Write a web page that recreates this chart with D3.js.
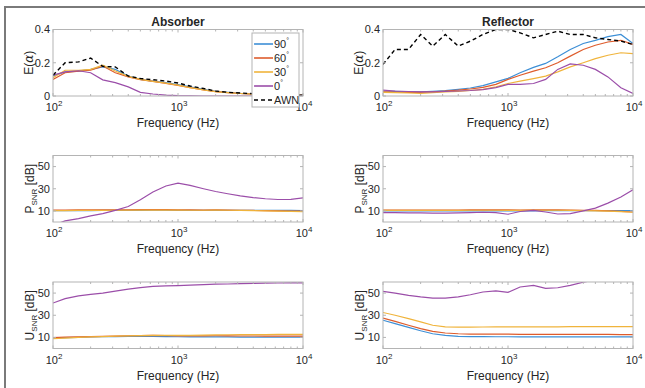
<!DOCTYPE html>
<html>
<head>
<meta charset="utf-8">
<script src="https://cdn.jsdelivr.net/npm/d3@7"></script>
<style>
  body { margin: 0; background: #fff; }
  svg text { font-family: "Liberation Sans", Arial, Helvetica, sans-serif; fill: #262626; }
</style>
</head>
<body>
<svg id="fig" width="645" height="388"></svg>
<script>
// Frequency grid (Hz), shared by all curves
var freqs = [100,125,160,200,250,315,400,500,630,800,1000,1250,1600,2000,2500,3150,4000,5000,6300,8000,10000];

var seriesNames = ["90°", "60°", "30°", "0°", "AWN"];
var seriesColors = ["#3d8fd6", "#de5c2c", "#f0b43c", "#9b4ea9", "#000"];

// E(alpha), absorber
var absE90  = [0.12,0.145,0.15,0.16,0.175,0.16,0.12,0.1,0.09,0.08,0.068,0.055,0.04,0.028,0.022,0.016,0.012,0.009,0.007,0.005,0.004];
var absE60  = [0.1,0.14,0.15,0.155,0.18,0.14,0.115,0.098,0.088,0.076,0.064,0.05,0.036,0.026,0.02,0.015,0.011,0.008,0.006,0.005,0.004];
var absE30  = [0.11,0.155,0.155,0.16,0.185,0.15,0.118,0.1,0.088,0.077,0.065,0.05,0.037,0.026,0.02,0.015,0.011,0.008,0.006,0.005,0.004];
var absE0   = [0.125,0.145,0.152,0.14,0.097,0.08,0.055,0.022,0.012,0.005,0.002,0.001,0,0,0,0,0,0,0,0,0.004];
var absEAWN = [0.125,0.2,0.205,0.228,0.178,0.175,0.12,0.105,0.098,0.09,0.078,0.06,0.045,0.03,0.022,0.018,0.014,0.01,0.008,0.006,0.005];

// E(alpha), reflector
var refE90  = [0.03,0.028,0.025,0.025,0.028,0.032,0.04,0.048,0.062,0.085,0.106,0.14,0.172,0.196,0.236,0.28,0.316,0.335,0.357,0.37,0.316];
var refE60  = [0.025,0.024,0.022,0.022,0.025,0.03,0.035,0.042,0.052,0.07,0.1,0.125,0.15,0.17,0.2,0.24,0.28,0.305,0.325,0.335,0.31];
var refE30  = [0.022,0.02,0.018,0.016,0.02,0.024,0.028,0.033,0.04,0.055,0.075,0.09,0.105,0.12,0.145,0.175,0.2,0.225,0.245,0.26,0.255];
var refE0   = [0.035,0.03,0.027,0.025,0.025,0.027,0.03,0.033,0.038,0.05,0.07,0.07,0.075,0.1,0.16,0.193,0.185,0.16,0.115,0.05,0.015];
var refEAWN = [0.19,0.28,0.28,0.37,0.3,0.37,0.3,0.33,0.37,0.4,0.4,0.38,0.35,0.37,0.39,0.37,0.37,0.35,0.34,0.33,0.31];

// P_SNR [dB]
var absP90  = [10.2,10.2,10.3,10.3,10.4,10.4,10.5,10.5,10.6,10.6,10.5,10.5,10.4,10.4,10.4,10.4,10.4,10.4,10.4,10.4,10.3];
var absP60  = [10.8,10.8,10.9,11,11,11,11,11.1,11.2,11.2,11,10.9,10.8,10.9,10.8,10.6,10.4,10.2,10,9.9,9.8];
var absP30  = [10.2,10.3,10.4,10.5,10.5,10.6,10.6,10.7,10.8,10.8,10.7,10.6,10.6,10.7,10.6,10.4,10.2,10,9.8,9.6,9.4];
var absP0   = [-3,1,3,5.5,7.5,10.5,14,20,27,32.5,35,33,30,27.5,25.5,23.5,22,21,20.3,20.5,21.8];
var refP90  = [10,10,10,10,10,10,10,10.1,10.1,10.1,10.1,10.1,10.1,10.2,10.2,10.2,10.2,10.2,10.2,10.2,10.2];
var refP60  = [10.8,10.8,10.8,10.7,10.7,10.8,10.8,10.9,11,11,10.9,10.8,10.9,11,11,10.8,10.6,10.4,10,9.5,9];
var refP30  = [10.4,10.4,10.4,10.4,10.4,10.4,10.5,10.6,10.6,10.6,10.5,10.5,10.6,10.6,10.6,10.5,10.3,10.1,9.8,9.3,8.8];
var refP0   = [8.5,8.5,8.3,8.2,8,8,8.2,8.5,8.8,8.5,7,9.5,10.5,9,7.2,7.5,10,12.5,17,22.5,29];

// U_SNR [dB]
var absU90  = [9.5,9.8,10.1,10.4,10.6,10.8,10.9,11,11,10.8,10.6,10.5,10.4,10.4,10.4,10.3,10.3,10.3,10.2,10.2,10.2];
var absU60  = [9.8,10.2,10.5,10.8,11,11.2,11.5,11.7,11.8,11.6,11.3,11.3,11.4,11.5,11.4,11.3,11.3,11.2,11.2,11.2,11.2];
var absU30  = [8.8,9.4,10,10.5,10.8,11.1,11.4,11.7,11.8,11.8,11.8,11.9,12.1,12.3,12.4,12.5,12.6,12.6,12.7,12.8,12.8];
var absU0   = [41,45,47.5,48.8,50,51.8,53.5,55,56,56.5,56.8,57.2,57.6,58,58.2,58.5,58.7,58.9,59.1,59.3,59.3];
var refU90  = [25.5,22.5,19,16,13.3,11.8,11,10.8,10.7,10.6,10.6,10.5,10.5,10.5,10.5,10.5,10.5,10.5,10.5,10.5,10.5];
var refU60  = [27.5,24.5,21,18,15.5,14,13.3,13,13,12.9,12.9,12.8,12.7,12.8,12.8,12.8,12.7,12.7,12.7,12.6,12.6];
var refU30  = [32.5,30,27,24,21,19.5,19.2,19.3,19.4,19.5,19.5,19.5,19.5,19.6,19.6,19.7,19.7,19.8,19.8,19.8,19.8];
var refU0   = [51.5,50,48,46.5,45.5,45.5,46.5,48.5,51,52,50.7,55.5,57,54.3,54.8,57,59.8,62,64,65,66];

var colTitles = ["Absorber", "Reflector"];
var eTicks = [0, 0.2, 0.4];
var snrTicks = [10, 30, 50];

var svg = d3.select("#fig");

var colX = [53, 383], plotW = 250;
var rowY = [29.5, 155.5, 282], plotH = 66.5;

var panels = [
  { col: 0, row: 0, kind: "E", series: [absE90, absE60, absE30, absE0, absEAWN] },
  { col: 1, row: 0, kind: "E", series: [refE90, refE60, refE30, refE0, refEAWN] },
  { col: 0, row: 1, kind: "P", series: [absP90, absP60, absP30, absP0] },
  { col: 1, row: 1, kind: "P", series: [refP90, refP60, refP30, refP0] },
  { col: 0, row: 2, kind: "U", series: [absU90, absU60, absU30, absU0] },
  { col: 1, row: 2, kind: "U", series: [refU90, refU60, refU30, refU0] }
];

// outer frame (only top and left edges show in the crop)
svg.append("path")
  .attr("d", "M5,388V7H645")
  .attr("fill", "none")
  .attr("stroke", "#7a7a7a")
  .attr("stroke-width", 2);

var majorX = [100, 1000, 10000];
var minorX = [];
[100, 1000].forEach(function(dec) {
  for (var k = 2; k <= 9; k++) minorX.push(dec * k);
});

panels.forEach(function(p, pi) {
  var x0 = colX[p.col], y0 = rowY[p.row];
  var g = svg.append("g").attr("transform", "translate(" + x0 + "," + y0 + ")");

  var x = d3.scaleLog().domain([100, 10000]).range([0, plotW]);
  var y = d3.scaleLinear()
    .domain(p.kind === "E" ? [0, 0.4] : [0, 60])
    .range([plotH, 0]);
  var yt = p.kind === "E" ? eTicks : snrTicks;

  g.append("rect").attr("width", plotW).attr("height", plotH).attr("fill", "#fff");

  // clip lines to axes
  svg.append("defs").append("clipPath").attr("id", "clip" + pi)
    .append("rect").attr("width", plotW).attr("height", plotH);

  var line = d3.line()
    .x(function(d, i) { return x(freqs[i]); })
    .y(function(d) { return y(d); });

  var lines = g.append("g").attr("clip-path", "url(#clip" + pi + ")");
  p.series.forEach(function(vals, si) {
    lines.append("path")
      .datum(vals)
      .attr("d", line)
      .attr("fill", "none")
      .attr("stroke", seriesColors[si])
      .attr("stroke-width", si === 4 ? 1.4 : 1.2)
      .attr("stroke-dasharray", si === 4 ? "4,3" : null);
  });

  // box and inward ticks
  var tk = g.append("g").attr("stroke", "#b4b4b4").attr("stroke-width", 1).attr("fill", "none");
  tk.append("rect").attr("width", plotW).attr("height", plotH);
  majorX.concat(minorX).forEach(function(f) {
    var len = majorX.indexOf(f) >= 0 ? 3 : 2;
    tk.append("line").attr("x1", x(f)).attr("x2", x(f)).attr("y1", plotH).attr("y2", plotH - len);
    tk.append("line").attr("x1", x(f)).attr("x2", x(f)).attr("y1", 0).attr("y2", len);
  });
  yt.forEach(function(v) {
    tk.append("line").attr("x1", 0).attr("x2", 3).attr("y1", y(v)).attr("y2", y(v));
    tk.append("line").attr("x1", plotW).attr("x2", plotW - 3).attr("y1", y(v)).attr("y2", y(v));
  });

  // y tick labels
  yt.forEach(function(v) {
    g.append("text")
      .attr("x", -3).attr("y", y(v)).attr("dy", "0.35em")
      .attr("text-anchor", "end")
      .style("font-size", "11px")
      .text(p.kind === "E" ? (v === 0 ? "0" : v.toFixed(1)) : v);
  });

  // x tick labels: 10^n
  majorX.forEach(function(f) {
    var t = g.append("text")
      .attr("x", x(f) + 1).attr("y", plotH + 15)
      .attr("text-anchor", "middle")
      .style("font-size", "11px");
    t.append("tspan").text("10");
    t.append("tspan").attr("dy", -5).style("font-size", "8px").text(Math.round(Math.log10(f)));
  });

  g.append("text")
    .attr("x", plotW / 2).attr("y", plotH + 31)
    .attr("text-anchor", "middle")
    .style("font-size", "12px")
    .text("Frequency (Hz)");

  // y label
  if (p.kind === "E") {
    var ye = g.append("text")
      .attr("transform", "translate(-20," + (plotH / 2) + ") rotate(-90)")
      .attr("text-anchor", "middle")
      .style("font-size", "12px");
    ye.append("tspan").text("E(");
    ye.append("tspan").style("font-family", "'DejaVu Serif', serif").style("font-style", "italic").text("α");
    ye.append("tspan").text(")");
  } else {
    var yl = g.append("text")
      .attr("transform", "translate(-19," + (plotH / 2) + ") rotate(-90)")
      .attr("text-anchor", "middle")
      .style("font-size", "12px");
    yl.append("tspan").text(p.kind);
    yl.append("tspan").attr("dy", 2.5).style("font-size", "8px").text("SNR");
    yl.append("tspan").attr("dy", -2.5).text(" [dB]");
  }

  if (p.row === 0) {
    g.append("text")
      .attr("x", plotW / 2).attr("y", -4)
      .attr("text-anchor", "middle")
      .style("font-size", "12px")
      .style("font-weight", "bold")
      .text(colTitles[p.col]);
  }
});

// legend in the absorber E panel
var lg = svg.append("g").attr("transform", "translate(252,33)");
lg.append("rect").attr("width", 47).attr("height", 74)
  .attr("fill", "#fff").attr("stroke", "#b4b4b4");
seriesNames.forEach(function(name, i) {
  var yy = 11 + i * 14;
  lg.append("line")
    .attr("x1", 2).attr("x2", 21).attr("y1", yy).attr("y2", yy)
    .attr("stroke", seriesColors[i])
    .attr("stroke-width", 1.6)
    .attr("stroke-dasharray", i === 4 ? "4,3" : null);
  var t = lg.append("text").attr("x", 22).attr("y", yy).attr("dy", "0.35em")
    .style("font-size", "11px");
  if (i < 4) {
    t.append("tspan").text(name.replace("°", ""));
    t.append("tspan").attr("dy", -5).style("font-size", "7px").text("°");
  } else {
    t.text(name);
  }
});
</script>
</body>
</html>
